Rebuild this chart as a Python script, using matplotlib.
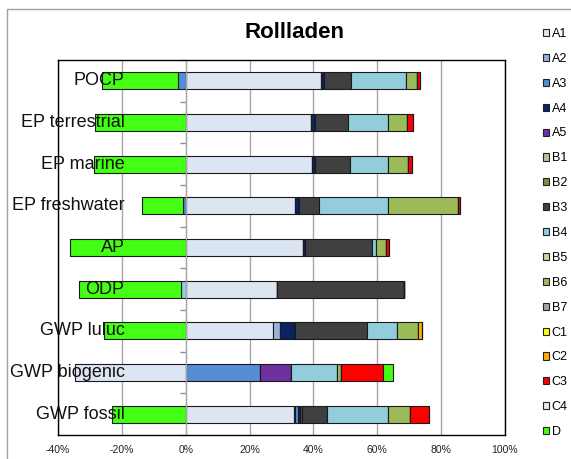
import matplotlib

matplotlib.use("Agg")

import matplotlib.pyplot as plt  # noqa: E402
import numpy as np  # noqa: E402
from matplotlib.patches import Patch, Rectangle  # noqa: E402
from matplotlib.ticker import FixedLocator, FuncFormatter  # noqa: E402

plt.rcParams["font.family"] = ["Liberation Sans", "DejaVu Sans"]

# ─── Data (share of total impact in %, bottom row first) ─────────────────────

categories = [
    "GWP fossil", "GWP biogenic", "GWP luluc", "ODP", "AP",
    "EP freshwater", "EP marine", "EP terrestrial", "POCP",
]

a1 = [33.9, -34.7, 27.4, 28.6, 36.8, 34.2, 39.5, 39.3, 42.4]
a2 = [0.3, 0, 2.1, 0, 0, 0, 0, 0, 0]
a3 = [1.0, 23.2, 0, 0, 0, -0.7, 0, 0, -2.5]
a4 = [0.6, 0, 4.8, 0, 0.6, 1.2, 1.0, 1.1, 1.0]
a5 = [0.5, 9.8, 0, 0, 0, 0, 0, 0, 0]
b1 = [0, 0, 0, 0, 0, 0, 0, 0, 0]
b2 = [0, 0, 0, 0, 0, 0, 0, 0, 0]
b3 = [8.1, 0, 22.4, 39.8, 21.0, 6.2, 10.8, 10.3, 8.3]
b4 = [19.1, 14.3, 9.6, -1.5, 1.2, 21.7, 12.0, 12.8, 17.2]
b5 = [0, 0, 0, 0, 0, 0, 0, 0, 0]
b6 = [6.8, 1.3, 6.5, 0, 3.0, 22.0, 6.4, 5.9, 3.4]
b7 = [0, 0, 0, 0, 0, 0, 0, 0, 0]
c1 = [0, 0, 0, 0, 0, 0, 0, 0, 0]
c2 = [0, 0, 1.1, 0, 0, 0, 0, 0, 0]
c3 = [6.0, 13.2, 0, 0, 1.1, 0.6, 1.1, 1.7, 1.0]
c4 = [0, 0, 0, 0, 0, 0, 0, 0, 0]
d = [-23.1, 3.1, -25.7, -31.8, -36.1, -12.9, -28.8, -28.5, -23.75]

stages = ["A1", "A2", "A3", "A4", "A5", "B1", "B2", "B3", "B4",
          "B5", "B6", "B7", "C1", "C2", "C3", "C4", "D"]
series = [a1, a2, a3, a4, a5, b1, b2, b3, b4, b5, b6, b7, c1, c2, c3, c4, d]

x_ticks = [-40, -20, 0, 20, 40, 60, 80, 100]

# ─── Styling ─────────────────────────────────────────────────────────────────

STAGE_COLORS = [
    "#DCE6F2", "#95B3D7", "#558ED5", "#0B2361", "#7030A0",
    "#C4BD97", "#77933C", "#404040", "#93CDDD", "#C3D69B",
    "#9BBB59", "#A6A6A6", "#FFFF00", "#FFB000", "#FF0000",
    "#EEECE1", "#44FF14",
]
EDGE = "#1a1a1a"
GRID = "#A6A6A6"

fig = plt.figure(figsize=(5.71, 4.59), dpi=100)
ax = fig.add_axes([58 / 571, 1 - 435 / 459, 447 / 571, 375 / 459])

# chart area border (only top and left edges fall inside the image)
fig.add_artist(Rectangle((7 / 571, -0.1), 1.2, 1.1 - 9 / 459,
                         transform=fig.transFigure, fill=False,
                         edgecolor="#A0A0A0", linewidth=1))

y = np.arange(len(categories))
pos = np.zeros(len(categories))
neg = np.zeros(len(categories))
for vals, color in zip(series, STAGE_COLORS):
    vals = np.asarray(vals, dtype=float)
    left = np.where(vals >= 0, pos, neg)
    ax.barh(y, vals, left=left, height=0.41, color=color,
            edgecolor=EDGE, linewidth=0.8, zorder=2)
    pos += np.clip(vals, 0, None)
    neg += np.clip(vals, None, 0)

ax.set_xlim(-40, 100)
ax.set_ylim(-0.5, len(categories) - 0.5)

ax.xaxis.set_major_locator(FixedLocator(x_ticks))
ax.xaxis.set_major_formatter(FuncFormatter(lambda v, _: f"{v:.0f}%"))
ax.tick_params(axis="x", length=0, pad=7, labelsize=7.5, labelcolor="#222222")
ax.grid(True, axis="x", color=GRID, linewidth=1, zorder=0)
ax.set_axisbelow(True)

# category axis crosses at 0 %
ax.spines["left"].set_position(("data", 0))
ax.spines["left"].set_color(GRID)
ax.yaxis.set_major_locator(FixedLocator([]))
ax.yaxis.set_minor_locator(FixedLocator(np.arange(len(categories) + 1) - 0.5))
ax.tick_params(axis="y", which="minor", length=4, width=1, color="#909090",
               direction="out")
for side in ("top", "right", "bottom"):
    ax.spines[side].set_color("black")
    ax.spines[side].set_linewidth(1)
ax.plot([0, 0], [0, 1], transform=ax.transAxes, color="black",
        linewidth=1, clip_on=False, zorder=5)

for yi, name in zip(y, categories):
    ax.annotate(name, xy=(0, yi), xytext=(-44, 0), textcoords="offset points",
                ha="right", va="center", fontsize=13, color="#111111",
                zorder=6)

fig.text(294 / 571, 1 - 32 / 459, "Rollladen", ha="center", va="center",
         fontsize=16, fontweight="bold")

handles = [Patch(facecolor=c, edgecolor="#222222", linewidth=0.8)
           for c in STAGE_COLORS]
fig.legend(handles, stages, loc="upper left",
           bbox_to_anchor=(543 / 571, 1 - 28 / 459), frameon=False,
           fontsize=9, handlelength=0.5, handleheight=0.5,
           handletextpad=0.2, labelspacing=1.03, borderpad=0,
           borderaxespad=0)

fig.savefig("out.png", dpi=100)
plt.close(fig)
